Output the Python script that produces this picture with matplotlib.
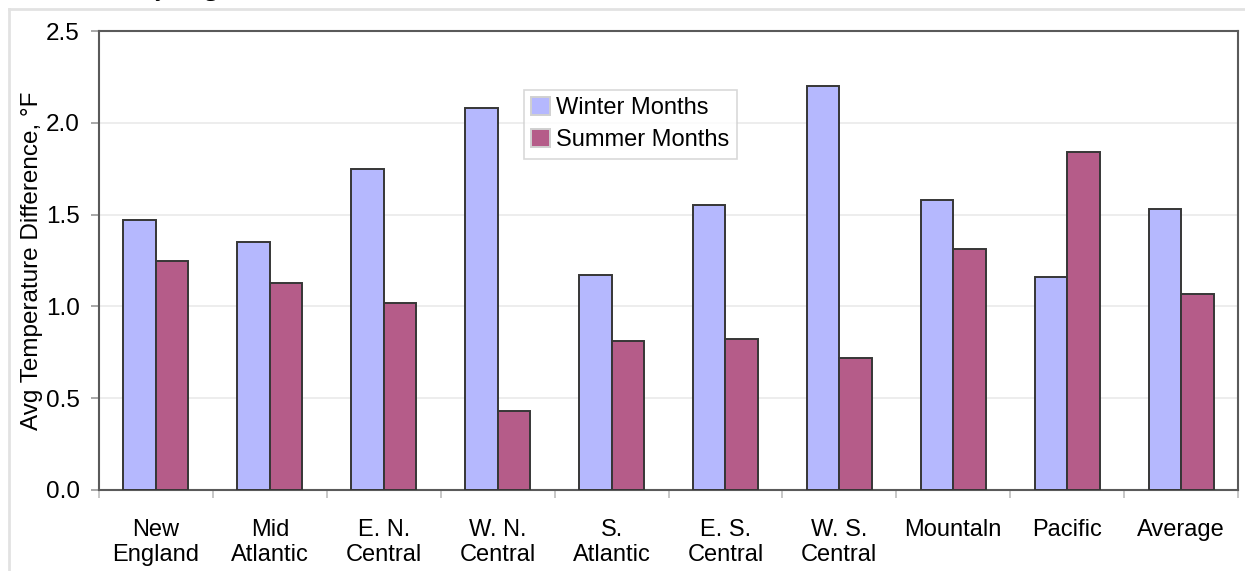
import numpy as np
import matplotlib.pyplot as plt
from matplotlib.lines import Line2D

plt.rcParams['font.family'] = ['Liberation Sans', 'DejaVu Sans']

# Regions and seasonal average temperature differences (deg F)
regions = ['New\nEngland', 'Mid\nAtlantic', 'E. N.\nCentral', 'W. N.\nCentral', 'S.\nAtlantic',
           'E. S.\nCentral', 'W. S.\nCentral', 'Mountaln', 'Pacific', 'Average']
winter = [1.47, 1.35, 1.75, 2.08, 1.17, 1.55, 2.20, 1.58, 1.16, 1.53]
summer = [1.25, 1.13, 1.02, 0.43, 0.81, 0.82, 0.72, 1.31, 1.84, 1.07]

fig = plt.figure(figsize=(12.45, 5.71), dpi=100)
ax = fig.add_axes([99 / 1245, 81 / 571, 1139 / 1245, 459 / 571])

x = np.arange(len(regions))
w = 1 / 3.5
ax.bar(x - w / 2, winter, w, color='#b5b8fe', edgecolor='#363636', linewidth=1.4,
       label='Winter Months', zorder=3)
ax.bar(x + w / 2, summer, w, color='#b55c89', edgecolor='#363636', linewidth=1.4,
       label='Summer Months', zorder=3)

ax.set_xlim(-0.5, len(regions) - 0.5)
ax.set_ylim(0, 2.5)
ax.set_yticks(np.arange(0, 2.51, 0.5))
ax.set_yticklabels([f'{v:.1f}' for v in np.arange(0, 2.51, 0.5)])
ax.yaxis.grid(True, color='#ececec', linewidth=1.3, zorder=0)

ax.set_xticks(x)
ax.set_xticklabels(regions, fontsize=17, linespacing=1.15)
ax.set_xticks(np.arange(-0.5, len(regions), 1), minor=True)
ax.tick_params(axis='x', which='major', length=0, pad=21)
ax.tick_params(axis='x', which='minor', length=6, width=1.2, color='#bdbdbd')
ax.tick_params(axis='y', length=6, width=1.2, color='#9a9a9a', labelsize=17.5, pad=8)

for s in ax.spines.values():
    s.set_color('#5a5a5a')
    s.set_linewidth(1.5)

ax.set_ylabel('Avg Temperature Difference, °F', fontsize=17.5, labelpad=2)

leg = ax.legend(loc='upper left', bbox_to_anchor=(0.373, 0.872), borderaxespad=0,
                fontsize=17, frameon=True, fancybox=False, handlelength=0.78,
                handleheight=0.78, handletextpad=0.25, labelspacing=0.42, borderpad=0.32)
leg.get_frame().set_edgecolor('#cfcfcf')
leg.get_frame().set_linewidth(1.2)
for h in leg.legend_handles:
    h.set_edgecolor('#d0d0d0')

# outer chart frame
fig.add_artist(Line2D([8.5 / 1245, 8.5 / 1245], [0, 1 - 8.5 / 571],
                      transform=fig.transFigure, color='#e2e2e2', linewidth=2))
fig.add_artist(Line2D([8.5 / 1245, 1], [1 - 8.5 / 571, 1 - 8.5 / 571],
                      transform=fig.transFigure, color='#e2e2e2', linewidth=2))

# caption line above the chart
fig.text(142 / 1245, 1 + 4 / 571, 'by Region', family=['Liberation Serif', 'DejaVu Serif'],
         fontsize=19, va='baseline', ha='left')

fig.savefig('out.png', dpi=100)
